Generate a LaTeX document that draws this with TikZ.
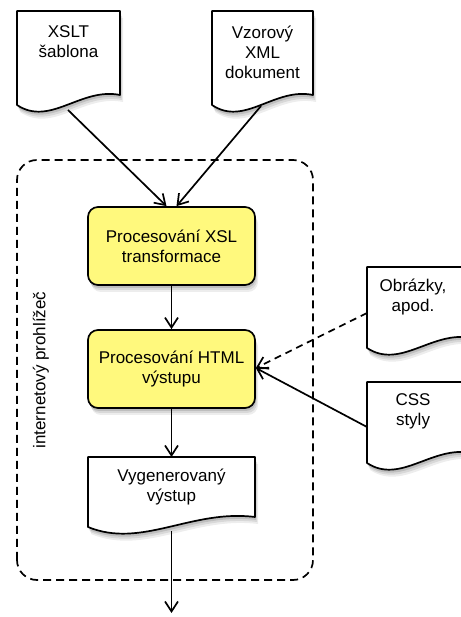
\documentclass[tikz,border=0pt]{standalone}
\usepackage{fontspec}
\setmainfont{Liberation Sans}
\usetikzlibrary{arrows.meta,shadows}
\definecolor{procyellow}{RGB}{255,249,125}
\tikzset{
  x=1pt, y=1pt,
  every node/.style={font=\fontsize{17}{20}\selectfont, align=center, inner sep=0pt},
  line/.style={draw=black, line width=1.7pt, line join=round},
  conn/.style={line, -{Straight Barb[length=10pt,width=13pt,line width=1.7pt]}},
  dashconn/.style={conn, dash pattern=on 7pt off 5pt},
  softshadow/.style={
    drop shadow={shadow xshift=3pt, shadow yshift=-7pt, opacity=0.07, fill=black, draw=none},
    drop shadow={shadow xshift=2pt, shadow yshift=-5pt, opacity=0.09, fill=black, draw=none},
    drop shadow={shadow xshift=1pt, shadow yshift=-3pt, opacity=0.12, fill=black, draw=none}},
  docshape/.style={line, fill=white, softshadow},
  procbox/.style={line, fill=procyellow, rounded corners=10pt, softshadow,
    minimum width=167pt, minimum height=78pt},
  frame/.style={line, dash pattern=on 8pt off 5pt, rounded corners=20pt},
}
% document outline: left, top, right, bottom-left
\newcommand\docpath[4]{%
  \path[docshape] (#1,#2) -- (#3,#2) -- (#3,#4+10)
    .. controls ({#1+0.62*(#3-#1)},#4+18) and ({#1+0.32*(#3-#1)},#4-22) .. (#1,#4) -- cycle;}
\begin{document}
\begin{tikzpicture}
\useasboundingbox (0,0) rectangle (460,617);

% browser frame
\draw[frame] (17,37) rectangle (313,457);
\node[rotate=90] (browser) at (41,247) {internetový prohlížeč};

% source documents
\docpath{17}{606}{120}{512}
\node (xslt) at (68.5,575) {XSLT\\šablona};
\coordinate (xslt-foot) at (68,507);

\docpath{212}{606}{313}{512}
\node (xml) at (262.5,565) {Vzorový\\XML\\dokument};
\coordinate (xml-foot) at (261,511);

% processing steps
\node[procbox] (xsl) at (171.5,371) {Procesování XSL\\transformace};
\node[procbox] (html) at (171.5,248) {Procesování HTML\\výstupu};

% generated output
\docpath{88}{160}{255}{90}
\node (out) at (171.5,130) {Vygenerovaný\\výstup};
\coordinate (out-foot) at (171.5,86);
\coordinate (end) at (171.5,4);

% external resources
\docpath{367}{350}{472}{269}
\node (img) at (413,320) {Obrázky,\\apod.};
\coordinate (img-port) at (367,304);

\docpath{367}{235}{472}{154}
\node (css) at (413,206) {CSS\\styly};
\coordinate (css-port) at (367,190);

% connectors
\draw[conn] (xslt-foot) -- ([xshift=-5pt]xsl.north);
\draw[conn] (xml-foot) -- ([xshift=5pt]xsl.north);
\draw[conn] (xsl.south) -- (html.north);
\draw[conn] (html.south) -- (out.north |- 0,160);
\draw[dashconn] (img-port) -- ([yshift=1pt]html.east);
\draw[conn] (css-port) -- ([yshift=1pt]html.east);
\draw[conn] (out-foot) -- (end);
\end{tikzpicture}
\end{document}
